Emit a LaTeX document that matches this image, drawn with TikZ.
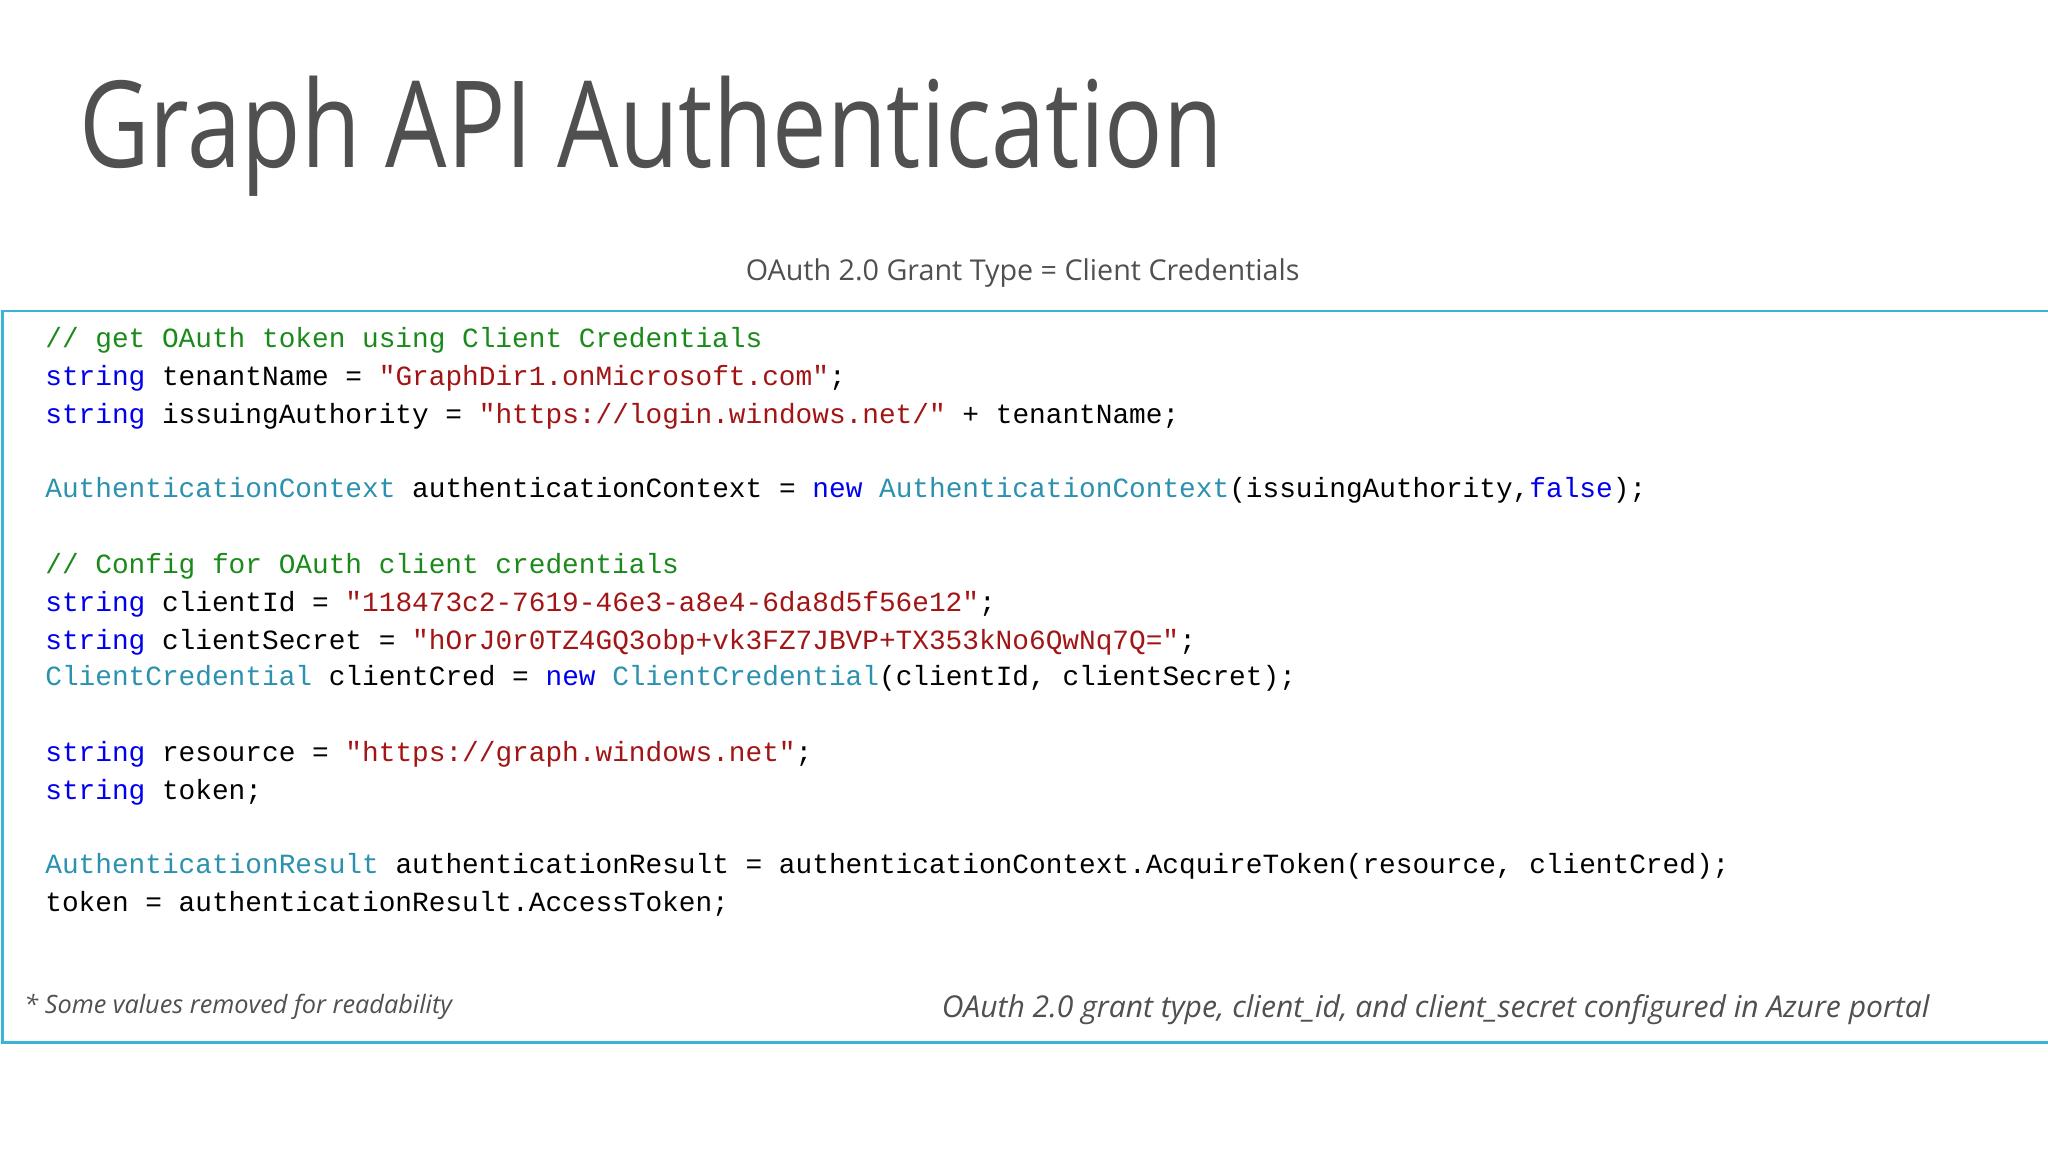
\documentclass[tikz,border=0pt]{standalone}
\usepackage{fontspec}
\setmainfont{Open Sans}
\setmonofont{Liberation Mono}
\definecolor{frame}{HTML}{3AB4D6}
\definecolor{cmt}{HTML}{1A8A1A}
\definecolor{kw}{HTML}{0000EE}
\definecolor{typ}{HTML}{2B91AF}
\definecolor{str}{HTML}{A31515}
\definecolor{ttl}{HTML}{505050}
\newcommand{\K}[1]{\textcolor{kw}{#1}}
\newcommand{\T}[1]{\textcolor{typ}{#1}}
\newcommand{\Sx}[1]{\textcolor{str}{#1}}
\newcommand{\Cm}[1]{\textcolor{cmt}{#1}}
\begin{document}
\begin{tikzpicture}[x=0.01cm,y=-0.01cm,
  code/.style={anchor=base west,inner sep=0,font=\ttfamily\fontsize{6.05pt}{7pt}\selectfont},
  note/.style={anchor=base west,inner sep=0,text=ttl,font=\itshape}]
\useasboundingbox[fill=white] (0,0) rectangle (1568,882);
\node[anchor=base west,inner sep=0,text=ttl,font=\fontsize{22pt}{26pt}\selectfont] (title) at (60,128) {\resizebox{8.75cm}{0.70cm}{Graph API Authentication}};
\node[anchor=base,inner sep=0,text=ttl,font=\fontsize{6.25pt}{7pt}\selectfont] (sub) at (783,215) {OAuth 2.0 Grant Type = Client Credentials};
\node[draw=frame,line width=0.6pt,inner sep=0,anchor=north west,
  minimum width=15.66cm,minimum height=5.6cm] (box) at (1,237) {};
\node[code] (l1) at (34,266) {\Cm{// get OAuth token using Client Credentials}};
\node[code] (l2) at (34,295) {\K{string} tenantName = \Sx{"GraphDir1.onMicrosoft.com"};};
\node[code] (l3) at (34,324) {\K{string} issuingAuthority = \Sx{"https://login.windows.net/"} + tenantName;};
\node[code] (l4) at (34,381) {\T{AuthenticationContext} authenticationContext = \K{new} \T{AuthenticationContext}(issuingAuthority,\K{false});};
\node[code] (l5) at (34,439) {\Cm{// Config for OAuth client credentials}};
\node[code] (l6) at (34,468) {\K{string} clientId = \Sx{"118473c2-7619-46e3-a8e4-6da8d5f56e12"};};
\node[code] (l7) at (34,497) {\K{string} clientSecret = \Sx{"hOrJ0r0TZ4GQ3obp+vk3FZ7JBVP+TX353kNo6QwNq7Q="};};
\node[code] (l8) at (34,525) {\T{ClientCredential} clientCred = \K{new} \T{ClientCredential}(clientId, clientSecret);};
\node[code] (l9) at (34,583) {\K{string} resource = \Sx{"https://graph.windows.net"};};
\node[code] (l10) at (34,612) {\K{string} token;};
\node[code] (l11) at (34,669) {\T{AuthenticationResult} authenticationResult = authenticationContext.AcquireToken(resource, clientCred);};
\node[code] (l12) at (34,698) {token = authenticationResult.AccessToken;};
\node[note,font=\itshape\fontsize{5.5pt}{6pt}\selectfont] (n1) at (18,776) {* Some values removed for readability};
\node[note,anchor=base east,font=\itshape\fontsize{6.55pt}{7pt}\selectfont] (n2) at (1478,779) {OAuth 2.0 grant type, client\_id, and client\_secret configured in Azure portal};
\end{tikzpicture}
\end{document}
